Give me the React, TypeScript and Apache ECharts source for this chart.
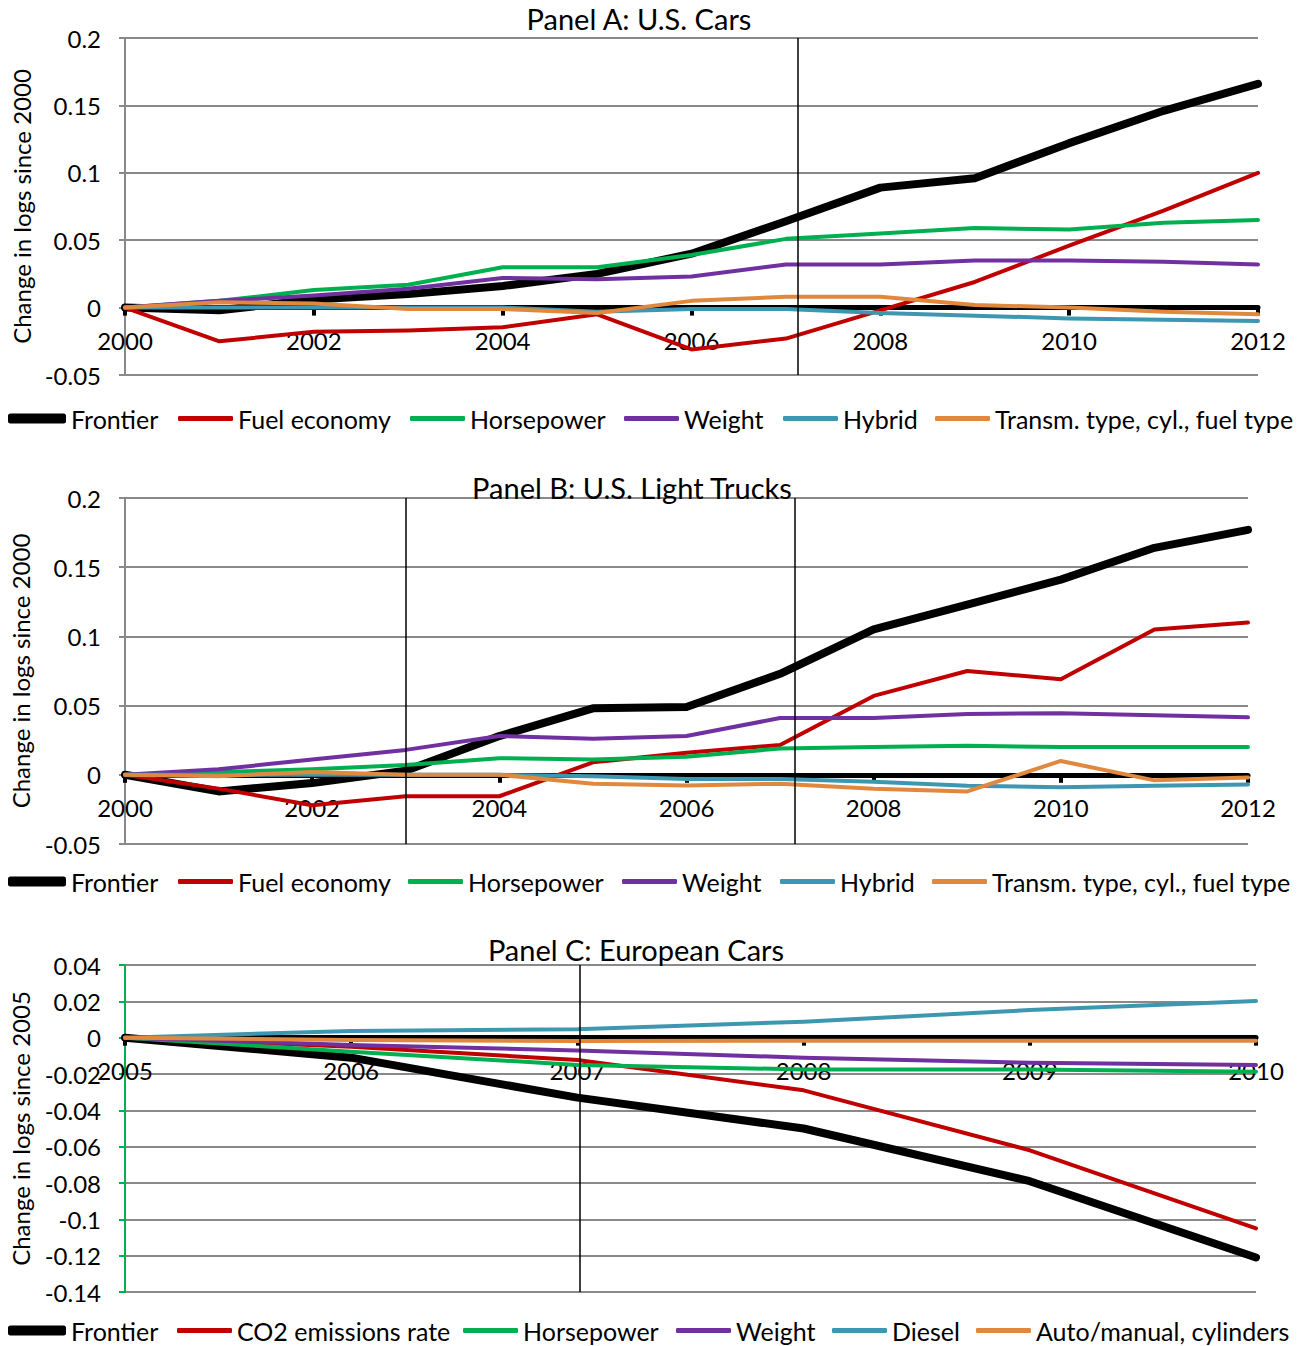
import React, { useEffect, useRef } from "react";
import * as echarts from "echarts";

// ---------- DATA ----------
const yearsAB = [2000, 2001, 2002, 2003, 2004, 2005, 2006, 2007, 2008, 2009, 2010, 2011, 2012];
const yearsC = [2005, 2006, 2007, 2008, 2009, 2010];

// Panel A: U.S. Cars
const frontierA = [0, -0.002, 0.006, 0.010, 0.016, 0.025, 0.040, 0.064, 0.089, 0.096, 0.122, 0.146, 0.166];
const fuelA = [0, -0.025, -0.018, -0.017, -0.0145, -0.005, -0.031, -0.023, -0.002, 0.019, 0.046, 0.072, 0.100];
const hpA = [0, 0.005, 0.013, 0.017, 0.030, 0.030, 0.039, 0.051, 0.055, 0.059, 0.058, 0.063, 0.065];
const weightA = [0, 0.005, 0.009, 0.014, 0.022, 0.021, 0.023, 0.032, 0.032, 0.035, 0.035, 0.034, 0.032];
const hybridA = [0, 0, 0, 0, 0, -0.003, -0.001, -0.001, -0.004, -0.006, -0.008, -0.009, -0.010];
const transA = [0, 0.004, 0.003, -0.001, -0.001, -0.004, 0.005, 0.008, 0.008, 0.002, 0, -0.003, -0.005];

// Panel B: U.S. Light Trucks
const frontierB = [0, -0.012, -0.006, 0.003, 0.028, 0.048, 0.049, 0.073, 0.105, 0.123, 0.141, 0.164, 0.177];
const fuelB = [0, -0.010, -0.022, -0.0155, -0.0155, 0.009, 0.016, 0.0215, 0.057, 0.075, 0.069, 0.105, 0.110];
const hpB = [0, 0.002, 0.004, 0.007, 0.012, 0.011, 0.013, 0.019, 0.020, 0.021, 0.020, 0.020, 0.020];
const weightB = [0, 0.004, 0.011, 0.018, 0.028, 0.026, 0.028, 0.041, 0.041, 0.044, 0.0445, 0.043, 0.0415];
const hybridB = [0, 0, 0, 0, 0, -0.001, -0.003, -0.003, -0.005, -0.008, -0.009, -0.008, -0.007];
const transB = [0, -0.001, 0.002, 0, 0, -0.0065, -0.0077, -0.0065, -0.010, -0.012, 0.010, -0.004, -0.002];

// Panel C: European Cars
const frontierC = [0, -0.011, -0.033, -0.050, -0.079, -0.121];
const co2C = [0, -0.005, -0.0123, -0.029, -0.062, -0.105];
const hpC = [0, -0.0077, -0.015, -0.0175, -0.0175, -0.0187];
const weightC = [0, -0.004, -0.007, -0.011, -0.0138, -0.015];
const dieselC = [0, 0.0037, 0.0046, 0.0088, 0.0152, 0.0202];
const autoC = [0, -0.0013, -0.0018, -0.0017, -0.0017, -0.0017];

// vertical divider lines (years)
const dividersA = [2007.13];
const dividersB = [2003.0, 2007.16];
const dividersC = [2007.01];

const namesAB = ["Frontier", "Fuel economy", "Horsepower", "Weight", "Hybrid", "Transm. type, cyl., fuel type"];
const namesC = ["Frontier", "CO2 emissions rate", "Horsepower", "Weight", "Diesel", "Auto/manual, cylinders"];
const titles = ["Panel A: U.S. Cars", "Panel B: U.S. Light Trucks", "Panel C: European Cars"];
const yNames = ["Change in logs since 2000", "Change in logs since 2000", "Change in logs since 2005"];

// ---------- STYLE ----------
const FONT = "Lato";
const COLORS = ["#000000", "#c00000", "#00b050", "#7030a0", "#3e97b0", "#e0893e"];
const WIDTHS = [8, 4, 4, 4, 4, 4];
const GRIDC = "#898989";

export default function App() {
  const ref = useRef<HTMLDivElement>(null);

  useEffect(() => {
    document.body.style.margin = "0";
    const chart = echarts.init(ref.current!, null, { renderer: "svg" });

    const panels = [
      { years: yearsAB, names: namesAB, vals: [frontierA, fuelA, hpA, weightA, hybridA, transA], div: dividersA, min: -0.05, max: 0.2, step: 0.05, xmin: 2000, xmax: 2012, xstep: 2, labelMargin: -47 },
      { years: yearsAB, names: namesAB, vals: [frontierB, fuelB, hpB, weightB, hybridB, transB], div: dividersB, min: -0.05, max: 0.2, step: 0.05, xmin: 2000, xmax: 2012, xstep: 2, labelMargin: -49 },
      { years: yearsC, names: namesC, vals: [frontierC, co2C, hpC, weightC, dieselC, autoC], div: dividersC, min: -0.14, max: 0.04, step: 0.02, xmin: 2005, xmax: 2010, xstep: 1, labelMargin: -234 },
    ];

    const grids = [
      { left: 125, right: 48, top: 38, height: 337 },
      { left: 121, right: 58, top: 498, height: 346 },
      { left: 125, right: 50, top: 965, height: 327 },
    ];

    const xAxes = panels.map((p, i) => ({
      gridIndex: i,
      type: "value",
      min: p.xmin,
      max: p.xmax,
      interval: p.xstep,
      axisLine: { onZero: true, lineStyle: { color: "#000", width: 5 } },
      axisTick: { show: true, length: 8, lineStyle: { color: "#000", width: 4 } },
      axisLabel: { formatter: (v: number) => String(v), color: "#000", fontSize: 24, fontFamily: FONT, margin: p.labelMargin },
      splitLine: { show: false },
    }));

    const yAxes = panels.map((p, i) => {
      const c = i === 2 ? "#00b050" : GRIDC;
      return {
        gridIndex: i,
        type: "value",
        min: p.min,
        max: p.max,
        interval: p.step,
        name: yNames[i],
        nameLocation: "middle",
        nameGap: i === 0 ? 91 : 93,
        nameTextStyle: { color: "#000", fontSize: 24, fontFamily: FONT },
        axisLine: { show: true, lineStyle: { color: c, width: 2 } },
        axisTick: { show: true, length: 6, lineStyle: { color: c, width: 2 } },
        axisLabel: { color: "#000", fontSize: 24, fontFamily: FONT, margin: 24 },
        splitLine: { show: true, lineStyle: { color: GRIDC, width: 2 } },
      };
    });

    const series: any[] = [];
    panels.forEach((p, gi) => {
      p.vals.forEach((vals, si) => {
        const s: any = {
          type: "line",
          name: p.names[si],
          xAxisIndex: gi,
          yAxisIndex: gi,
          data: p.years.map((y, k) => [y, vals[k]]),
          symbol: "none",
          showSymbol: false,
          lineStyle: { color: COLORS[si], width: WIDTHS[si], cap: "round", join: "round" },
          itemStyle: { color: COLORS[si] },
        };
        if (si === p.vals.length - 1) {
          s.markLine = {
            silent: true,
            symbol: ["none", "none"],
            label: { show: false },
            lineStyle: { color: "#000", width: 1.5, type: "solid" },
            data: p.div.map((x) => ({ xAxis: x })),
          };
        }
        series.push(s);
      });
    });

    const legendLefts = [
      [8, 178, 410, 624, 783, 935],
      [8, 178, 408, 622, 780, 932],
      [8, 177, 463, 676, 832, 976],
    ];
    const legendCenters = [418, 881, 1330];
    const legends: any[] = [];
    panels.forEach((p, gi) => {
      p.names.forEach((n, si) => {
        const h = si === 0 ? 10 : 5;
        legends.push({
          data: [{ name: n, icon: "roundRect" }],
          left: legendLefts[gi][si],
          top: legendCenters[gi] - 12,
          padding: 0,
          itemWidth: si === 0 ? 58 : 55,
          itemHeight: h,
          selectedMode: false,
          textStyle: { color: "#000", fontSize: 25, fontFamily: FONT },
        });
      });
    });

    const titleCenters = [[639, 19], [632, 488], [636, 950]];
    const titleOpts = titles.map((t, i) => ({
      text: t,
      left: titleCenters[i][0] - 5,
      top: titleCenters[i][1] - 15 - 5,
      textAlign: "center",
      textStyle: { color: "#000", fontSize: 29, fontWeight: "normal", fontFamily: FONT },
    }));

    chart.setOption({
      animation: false,
      backgroundColor: "#ffffff",
      title: titleOpts,
      grid: grids,
      xAxis: xAxes,
      yAxis: yAxes,
      legend: legends,
      series,
    });

    return () => chart.dispose();
  }, []);

  return <div ref={ref} style={{ width: 1306, height: 1346 }} />;
}
